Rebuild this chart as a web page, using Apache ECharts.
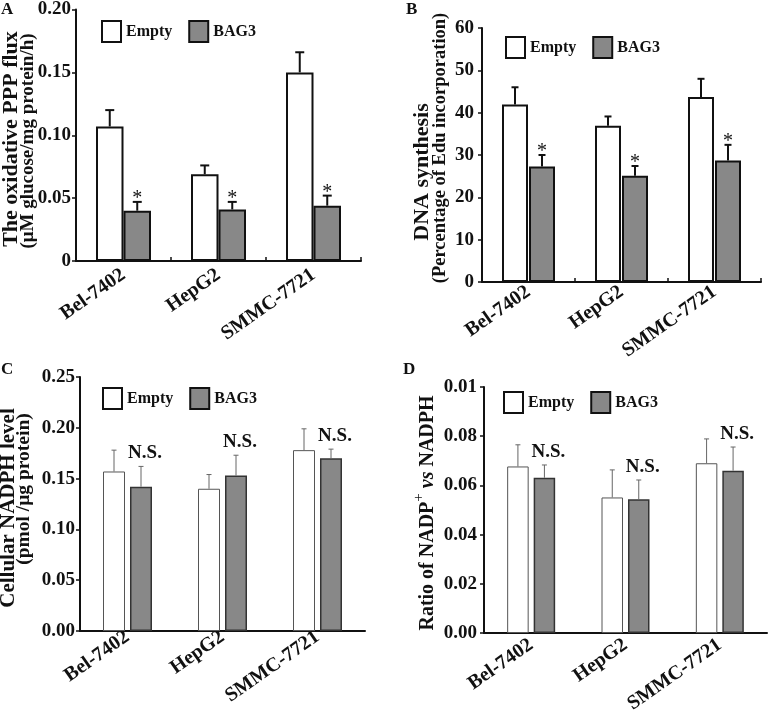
<!DOCTYPE html>
<html>
<head>
<meta charset="utf-8">
<script src="https://cdn.jsdelivr.net/npm/echarts@6/dist/echarts.min.js"></script>
<style>
html,body{margin:0;padding:0;background:#fff;}
#chart{width:770px;height:716px;}
</style>
</head>
<body>
<div id="chart"></div>
<script>
// ---------- DATA ----------
const categories = ['Bel-7402', 'HepG2', 'SMMC-7721'];
const seriesNames = ['Empty', 'BAG3'];

// Panel A: oxidative PPP flux
const fluxEmpty = [0.107, 0.069, 0.150];
const fluxEmptySD = [0.013, 0.007, 0.016];
const fluxBag3 = [0.040, 0.041, 0.044];
const fluxBag3SD = [0.007, 0.006, 0.008];

// Panel B: DNA synthesis
const dnaEmpty = [41.9, 36.9, 43.7];
const dnaEmptySD = [4.1, 2.2, 4.3];
const dnaBag3 = [27.3, 25.1, 28.7];
const dnaBag3SD = [2.7, 2.3, 3.7];

// Panel C: cellular NADPH
const nadphEmpty = [0.157, 0.140, 0.178];
const nadphEmptySD = [0.021, 0.014, 0.021];
const nadphBag3 = [0.142, 0.153, 0.170];
const nadphBag3SD = [0.020, 0.020, 0.009];

// Panel D: NADP+/NADPH ratio
const ratioEmpty = [0.0677, 0.0551, 0.0690];
const ratioEmptySD = [0.0088, 0.0112, 0.0099];
const ratioBag3 = [0.0631, 0.0544, 0.0660];
const ratioBag3SD = [0.0052, 0.0078, 0.0096];

// Tick labels
const yTicksA = ['0', '0.05', '0.10', '0.15', '0.20'];
const yTicksB = ['0', '10', '20', '30', '40', '50', '60'];
const yTicksC = ['0.00', '0.05', '0.10', '0.15', '0.20', '0.25'];
const yTicksD = ['0.00', '0.02', '0.04', '0.06', '0.08', '0.01'];

// Significance marks (on BAG3 bars)
const sigA = ['*', '*', '*'];
const sigB = ['*', '*', '*'];
const sigC = ['N.S.', 'N.S.', 'N.S.'];
const sigD = ['N.S.', 'N.S.', 'N.S.'];

// ---------- STYLE / LAYOUT ----------
const FONT = '"Liberation Serif", "Times New Roman", serif';
const INK = '#111';
const GRAY = '#888';

const panels = [
  { grid: {left: 76, top: 9, width: 285, height: 252}, max: 0.2, interval: 0.05, ticks: yTicksA,
    empty: fluxEmpty, emptySD: fluxEmptySD, bag: fluxBag3, bagSD: fluxBag3SD, sig: sigA,
    barWidth: 27.5, gap: 0, thick: true, capW: 9, labelMargin: 5, xMargin: 12, xTicks: true,
    legend: {left: 96, top: 15} },
  { grid: {left: 482, top: 28, width: 279, height: 254}, max: 60, interval: 10, ticks: yTicksB,
    empty: dnaEmpty, emptySD: dnaEmptySD, bag: dnaBag3, bagSD: dnaBag3SD, sig: sigB,
    barWidth: 26, gap: 1, thick: true, capW: 7, labelMargin: 8, xMargin: 8, xTicks: true,
    legend: {left: 500, top: 31} },
  { grid: {left: 80, top: 377, width: 285, height: 254}, max: 0.25, interval: 0.05, ticks: yTicksC,
    empty: nadphEmpty, emptySD: nadphEmptySD, bag: nadphBag3, bagSD: nadphBag3SD, sig: sigC,
    barWidth: 22, gap: 5, thick: false, capW: 5, labelMargin: 5, xMargin: 4, xTicks: false,
    legend: {left: 97, top: 382} },
  { grid: {left: 484, top: 387, width: 283, height: 251}, max: 0.1, interval: 0.02, ticks: yTicksD,
    empty: ratioEmpty, emptySD: ratioEmptySD, bag: ratioBag3, bagSD: ratioBag3SD, sig: sigD,
    barWidth: 21.5, gap: 5, thick: false, capW: 5, labelMargin: 7, xMargin: 10, xTicks: false,
    legend: {left: 498, top: 386} }
];

const grids = [], xAxes = [], yAxes = [], series = [], legends = [];

panels.forEach((p, k) => {
  grids.push(Object.assign({containLabel: false}, p.grid));
  xAxes.push({
    type: 'category', gridIndex: k, data: categories,
    axisLine: {lineStyle: {color: INK, width: 2}},
    axisTick: {show: p.xTicks, inside: true, length: 4, lineStyle: {color: INK, width: 1.5}},
    axisLabel: {rotate: 35, margin: p.xMargin, color: INK, fontFamily: FONT, fontWeight: 'bold', fontSize: 20},
    splitLine: {show: false}
  });
  yAxes.push({
    type: 'value', gridIndex: k, min: 0, max: p.max, interval: p.interval,
    axisLine: {show: true, lineStyle: {color: INK, width: 2}},
    axisTick: {show: true, length: 4, lineStyle: {color: INK, width: 1.5}},
    axisLabel: {margin: p.labelMargin, color: INK, fontFamily: FONT, fontWeight: 'bold', fontSize: 19,
      formatter: (v) => p.ticks[Math.round(v / p.interval)]},
    splitLine: {show: false}
  });

  const emptyStyle = p.thick
    ? {color: '#fff', borderColor: INK, borderWidth: 2}
    : {color: '#fff', borderColor: '#555', borderWidth: 1};
  const bagStyle = p.thick
    ? {color: GRAY, borderColor: INK, borderWidth: 2}
    : {color: GRAY, borderColor: '#333', borderWidth: 1.5};
  const gapPct = (p.gap / p.barWidth * 100) + '%';

  series.push({
    name: 'Empty', type: 'bar', xAxisIndex: k, yAxisIndex: k, data: p.empty,
    barWidth: p.barWidth, barGap: gapPct, itemStyle: emptyStyle, z: 2, animation: false
  });
  series.push({
    name: 'BAG3', type: 'bar', xAxisIndex: k, yAxisIndex: k, data: p.bag,
    barWidth: p.barWidth, barGap: gapPct, itemStyle: bagStyle, z: 2, animation: false
  });

  const off = (p.barWidth + p.gap) / 2;
  [[p.empty, p.emptySD, -off, null], [p.bag, p.bagSD, off, p.sig]].forEach(([m, sd, dx, sig], g) => {
    series.push({
      name: 'err' + k + g, type: 'custom', xAxisIndex: k, yAxisIndex: k, z: 5, animation: false,
      silent: true,
      encode: {x: 0, y: [1, 2]},
      data: m.map((v, i) => [i, v, v + sd[i]]),
      renderItem: function (params, api) {
        const cat = api.value(0);
        const b = api.coord([cat, api.value(1)]);
        const t = api.coord([cat, api.value(2)]);
        const x = b[0] + dx;
        const lw = p.thick ? 2 : 1;
        const col = p.thick ? INK : '#666';
        const children = [
          {type: 'line', shape: {x1: x, y1: b[1], x2: x, y2: t[1]}, style: {stroke: col, lineWidth: lw}},
          {type: 'line', shape: {x1: x - p.capW / 2, y1: t[1], x2: x + p.capW / 2, y2: t[1]}, style: {stroke: col, lineWidth: lw}}
        ];
        if (sig) {
          const s = sig[params.dataIndex];
          if (s === '*') {
            children.push({type: 'text', x: x, y: t[1] - 3, style: {text: s, align: 'center', verticalAlign: 'middle',
              fill: INK, font: 'normal 20px ' + FONT}});
          } else {
            children.push({type: 'text', x: x + 4, y: t[1] - 13, style: {text: s, align: 'center', verticalAlign: 'middle',
              fill: INK, font: 'bold 19px ' + FONT}});
          }
        }
        return {type: 'group', children: children};
      }
    });
  });

  legends.push({
    left: p.legend.left, top: p.legend.top, orient: 'horizontal',
    itemWidth: 19, itemHeight: 21, itemGap: 16, icon: 'rect',
    textStyle: {color: INK, fontFamily: FONT, fontWeight: 'bold', fontSize: 16},
    data: [
      {name: 'Empty', itemStyle: {color: '#fff', borderColor: INK, borderWidth: 2}},
      {name: 'BAG3', itemStyle: {color: GRAY, borderColor: INK, borderWidth: 2}}
    ]
  });
});

function vText(text, x, y, size) {
  return {type: 'text', x: x, y: y, rotation: Math.PI / 2,
    style: {text: text, align: 'center', verticalAlign: 'middle', fill: INK, font: 'bold ' + size + 'px ' + FONT}};
}
function corner(text, x, y) {
  return {type: 'text', x: x, y: y, style: {text: text, fill: INK, font: 'bold 17px ' + FONT}};
}

const graphics = [
  corner('A', 1, 1), corner('B', 406, 1), corner('C', 1, 361), corner('D', 403, 361),
  vText('The oxidative PPP flux', 11, 139, 22),
  vText('(\u03bcM glucose/mg protein/h)', 28, 141, 19),
  vText('DNA synthesis', 422, 172, 22),
  vText('(Percentage of Edu incorporation)', 440, 148, 18.5),
  vText('Cellular NADPH level', 9, 508, 21),
  vText('(pmol /\u03bcg protein)', 24, 489, 19.5),
  {type: 'text', x: 425, y: 513, rotation: Math.PI / 2,
    style: {text: '{n|Ratio of NADP}{s|+}{n| }{i|vs}{n| NADPH}', align: 'center', verticalAlign: 'middle',
      fill: INK, font: 'bold 20px ' + FONT,
      rich: {
        n: {fontFamily: FONT, fontWeight: 'bold', fontSize: 20, fill: INK, lineHeight: 26, verticalAlign: 'bottom'},
        s: {fontFamily: FONT, fontWeight: 'normal', fontSize: 15, fill: INK, lineHeight: 26, verticalAlign: 'top'},
        i: {fontFamily: FONT, fontWeight: 'bold', fontStyle: 'italic', fontSize: 20, fill: INK, lineHeight: 26, verticalAlign: 'bottom'}
      }}}
];

const chart = echarts.init(document.getElementById('chart'), null, {renderer: 'canvas'});
chart.setOption({
  backgroundColor: '#fff',
  animation: false,
  grid: grids,
  xAxis: xAxes,
  yAxis: yAxes,
  legend: legends,
  series: series,
  graphic: graphics
});
</script>
</body>
</html>
